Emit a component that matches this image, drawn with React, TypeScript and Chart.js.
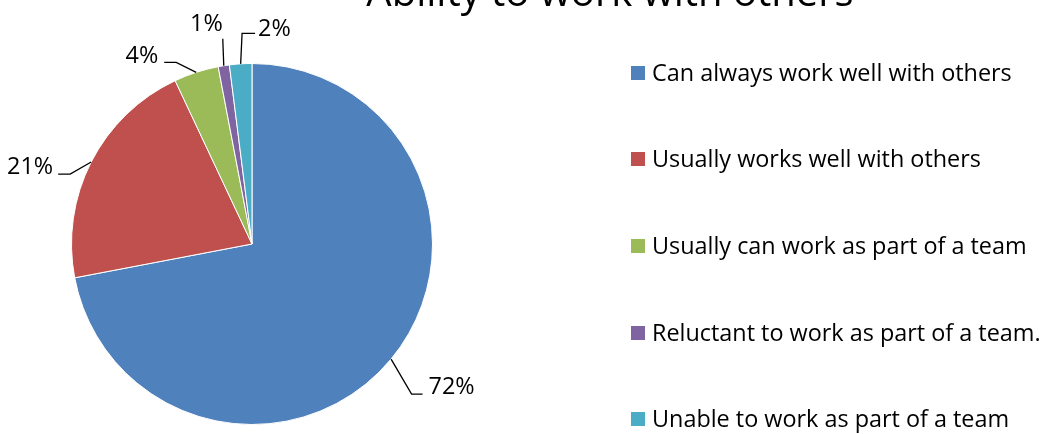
import React, { useEffect, useRef } from "react";
import { Chart, registerables } from "chart.js";

Chart.register(...registerables);

const chartTitle = "Ability to work with others";
const categories = [
  "Can always work well with others",
  "Usually works well with others",
  "Usually can work as part of a team",
  "Reluctant to work as part of a team.",
  "Unable to work as part of a team",
];
const values = [72, 21, 4, 1, 2];
const colors = ["#4F81BD", "#C0504D", "#9BBB59", "#8064A2", "#4BACC6"];

const FONT = "'Open Sans', 'Noto Sans', sans-serif";

// leader-line layout (offsets from the slice edge point)
const leaderLayout = [
  { elbow: [20.5, 35], end: [31.5, 35], text: [6, -7], align: "left" },
  { elbow: [-21, 12], end: [-33, 12], text: [-5, -7], align: "right" },
  { elbow: [-20, -10], end: [-32, -10], text: [-6, -6], align: "right" },
  { elbow: [-1, -27], end: [-1, -27], text: [0, -14], align: "right" },
  { elbow: [1.4, -30.4], end: [14.4, -30.4], text: [3, -4], align: "left" },
];
const legendRows = [73, 159, 246, 333, 419];

const overlay = {
  id: "overlay",
  afterDraw(chart: any) {
    const ctx = chart.ctx as CanvasRenderingContext2D;
    ctx.save();
    // fit fonts to reference widths
    ctx.font = `20px ${FONT}`;
    const w0 = ctx.measureText(categories[0]).width;
    const fs = Math.max(17, Math.min(24, (20 * 360) / w0));
    ctx.font = `33px ${FONT}`;
    const wt = ctx.measureText(chartTitle).width;
    const ts = Math.max(28, Math.min(40, (33 * 514) / wt));

    // title (mostly cut off at the top, as in the reference)
    ctx.fillStyle = "#000";
    ctx.font = `${ts}px ${FONT}`;
    ctx.textAlign = "center";
    ctx.textBaseline = "alphabetic";
    ctx.fillText(chartTitle, 610, 6);

    // data labels with leader lines
    const total = values.reduce((a, b) => a + b, 0);
    const meta = chart.getDatasetMeta(0);
    ctx.font = `${fs}px ${FONT}`;
    ctx.textBaseline = "middle";
    meta.data.forEach((arc: any, i: number) => {
      const p = arc.getProps(["x", "y", "startAngle", "endAngle", "outerRadius"], true);
      const mid = (p.startAngle + p.endAngle) / 2;
      const sx = p.x + Math.cos(mid) * p.outerRadius;
      const sy = p.y + Math.sin(mid) * p.outerRadius;
      const L = leaderLayout[i];
      ctx.strokeStyle = "#000";
      ctx.lineWidth = 1.3;
      ctx.beginPath();
      ctx.moveTo(sx, sy);
      ctx.lineTo(sx + L.elbow[0], sy + L.elbow[1]);
      ctx.lineTo(sx + L.end[0], sy + L.end[1]);
      ctx.stroke();
      ctx.textAlign = L.align as CanvasTextAlign;
      const label = Math.round((values[i] / total) * 100) + "%";
      ctx.fillText(label, sx + L.end[0] + L.text[0], sy + L.end[1] + L.text[1]);
    });

    // legend
    ctx.textAlign = "left";
    categories.forEach((c, i) => {
      const cy = legendRows[i];
      ctx.fillStyle = colors[i];
      ctx.fillRect(631, cy - 7, 14, 14);
      ctx.fillStyle = "#000";
      ctx.fillText(c, 652, cy + 1);
    });
    ctx.restore();
  },
};

export default function App() {
  const ref = useRef<HTMLCanvasElement | null>(null);
  useEffect(() => {
    document.body.style.margin = "0";
    if (!ref.current) return;
    const chart = new Chart(ref.current, {
      type: "pie",
      data: {
        labels: categories,
        datasets: [
          {
            data: values,
            backgroundColor: colors,
            borderColor: "#ffffff",
            borderWidth: 1,
          },
        ],
      },
      options: {
        responsive: false,
        animation: false,
        layout: { padding: { left: 71, right: 607, top: 63, bottom: 9 } },
        plugins: {
          legend: { display: false },
          tooltip: { enabled: false },
          title: { display: false },
        },
      },
      plugins: [overlay],
    });
    return () => chart.destroy();
  }, []);
  return (
    <div style={{ position: "absolute", left: 0, top: 0, width: 1040, height: 434, background: "#fff" }}>
      <canvas ref={ref} width={1040} height={434} style={{ width: 1040, height: 434 }} />
    </div>
  );
}
